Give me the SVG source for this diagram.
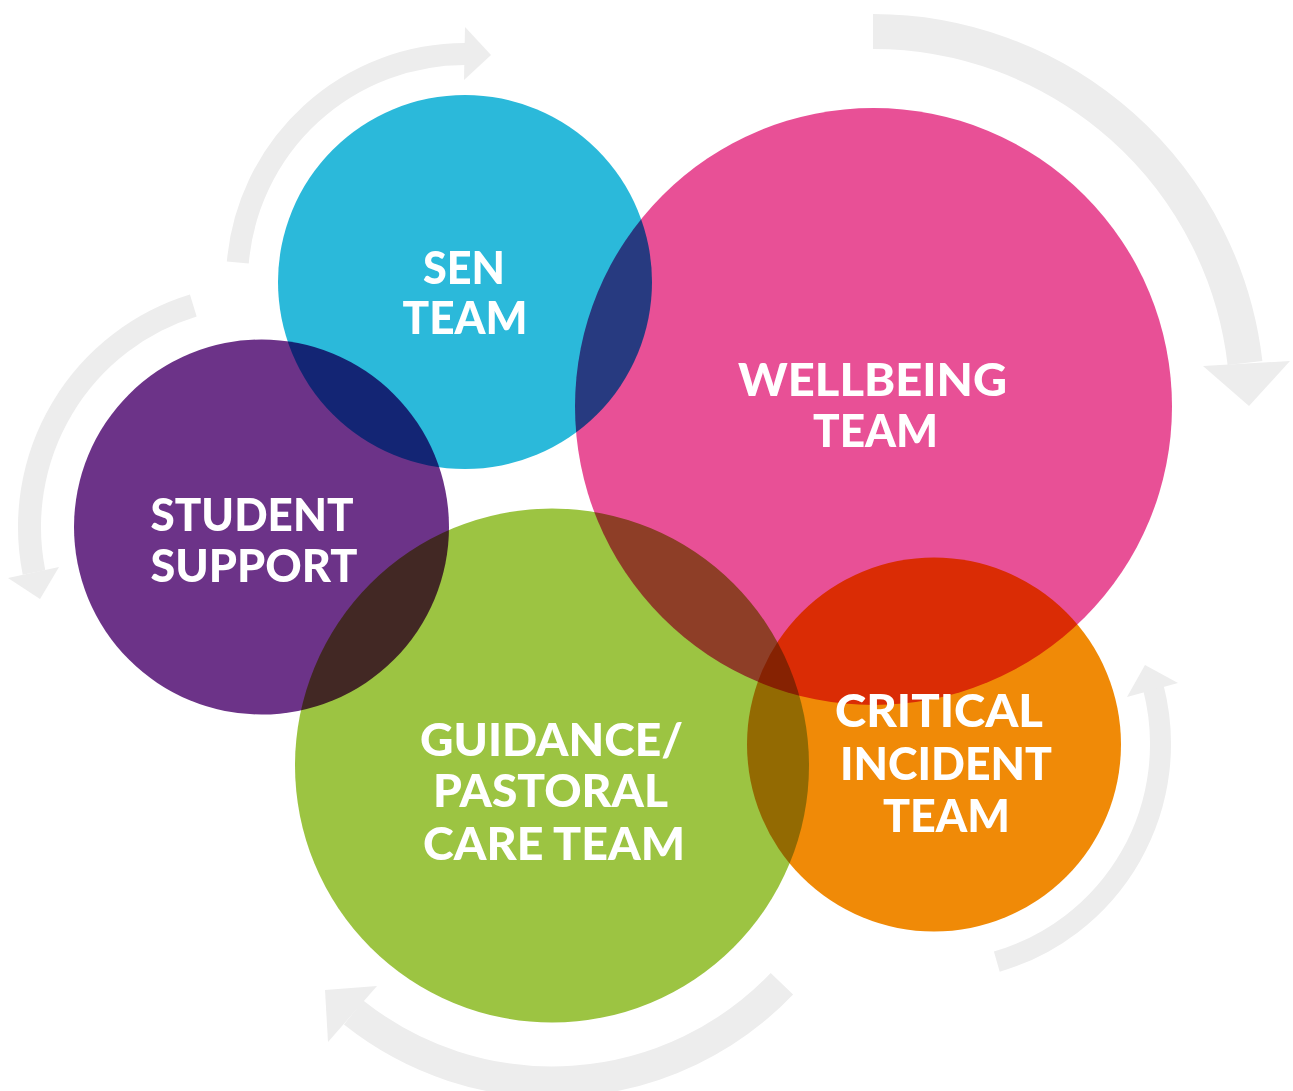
<svg xmlns="http://www.w3.org/2000/svg" width="1293" height="1091" viewBox="0 0 1293 1091">
<style>
.c{mix-blend-mode:multiply}
.t{fill:#fff;font-family:Lato,"Open Sans","DejaVu Sans",sans-serif;font-weight:900;font-size:45px;text-anchor:middle}
.band{fill:none;stroke:#EDEDED}
.head{fill:#EDEDED}
</style>
<rect width="1293" height="1091" fill="#fff"/>
<g id="connectors">
<path class="band" stroke-width="22" d="M237.8,262.5 A228,228 0 0 1 465,54"/>
<polygon class="head" points="465,27 491,55 464,80"/>
<path class="band" stroke-width="35" d="M873,31.5 A374.5,374.5 0 0 1 1245,363"/>
<polygon class="head" points="1203,366 1290,361 1249,406"/>
<path class="band" stroke-width="23" d="M193.3,305.6 A231.5,231.5 0 0 0 34,572.4"/>
<polygon class="head" points="8,578 59,567 40,599"/>
<path class="band" stroke-width="31" d="M781.9,983.7 A318,318 0 0 1 353.6,1012.5"/>
<polygon class="head" points="377,986 328,1042 325,990"/>
<path class="band" stroke-width="21" d="M996.8,961.6 A226.5,226.5 0 0 0 1153.3,687.3"/>
<polygon class="head" points="1127,697 1178,683 1145,665"/>
</g>
<g id="sen-team">
<circle class="c" cx="465" cy="282" r="187" fill="#2BB9DA"/>
<text class="t" x="464" y="284" textLength="82" lengthAdjust="spacingAndGlyphs">SEN</text>
<text class="t" x="465" y="334" textLength="125" lengthAdjust="spacingAndGlyphs">TEAM</text>
</g>
<g id="wellbeing-team">
<circle class="c" cx="873.5" cy="406.5" r="298.5" fill="#E85096"/>
<text class="t" x="872.5" y="396" textLength="269" lengthAdjust="spacingAndGlyphs">WELLBEING</text>
<text class="t" x="875.5" y="447" textLength="125" lengthAdjust="spacingAndGlyphs">TEAM</text>
</g>
<g id="student-support">
<circle class="c" cx="261.5" cy="527" r="187.5" fill="#6C3388"/>
<text class="t" x="252" y="531" textLength="203" lengthAdjust="spacingAndGlyphs">STUDENT</text>
<text class="t" x="254" y="582" textLength="207" lengthAdjust="spacingAndGlyphs">SUPPORT</text>
</g>
<g id="guidance-pastoral-care-team">
<circle class="c" cx="552" cy="765.5" r="257" fill="#9CC442"/>
<text class="t" x="551.5" y="756" textLength="263" lengthAdjust="spacingAndGlyphs">GUIDANCE/</text>
<text class="t" x="550.5" y="807" textLength="235" lengthAdjust="spacingAndGlyphs">PASTORAL</text>
<text class="t" x="554" y="860" textLength="262" lengthAdjust="spacingAndGlyphs">CARE TEAM</text>
</g>
<g id="critical-incident-team">
<circle class="c" cx="934" cy="744.5" r="187" fill="#F08A07"/>
<text class="t" x="939" y="727" textLength="208" lengthAdjust="spacingAndGlyphs">CRITICAL</text>
<text class="t" x="946" y="780" textLength="212" lengthAdjust="spacingAndGlyphs">INCIDENT</text>
<text class="t" x="946.5" y="832" textLength="127" lengthAdjust="spacingAndGlyphs">TEAM</text>
</g>
</svg>
